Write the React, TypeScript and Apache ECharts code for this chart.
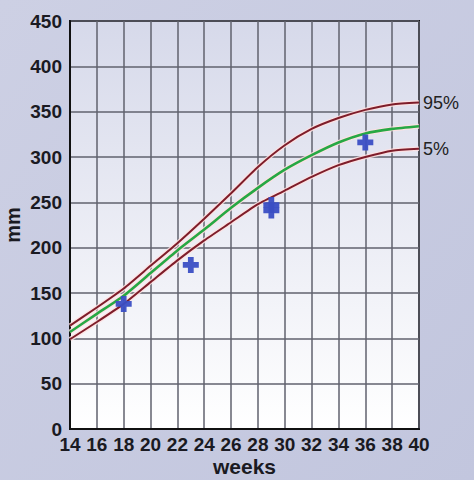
import React, { useEffect, useRef } from "react";
import * as echarts from "echarts";

const weeks = [14, 16, 18, 20, 22, 24, 26, 28, 30, 32, 34, 36, 38, 40];
const p95 = [114, 134, 155, 180, 205, 232, 260, 289, 313, 331, 343, 352, 358, 360];
const p50 = [107, 127, 147, 172, 197, 220, 244, 266, 286, 302, 316, 326, 331, 334];
const p5 = [99, 118, 138, 162, 186, 208, 228, 248, 263, 278, 291, 300, 307, 309];
const measuredWeeks = [18, 23, 29, 29, 36];
const measuredValues = [138, 181, 247, 241, 316];
const yTicks = [0, 50, 100, 150, 200, 250, 300, 350, 400, 450];

const FONT = "'Liberation Sans', Arial, sans-serif";
const CROSS = "path://M3.2,0 H6.8 V3.2 H10 V6.8 H6.8 V10 H3.2 V6.8 H0 V3.2 H3.2 Z";

function pairs(xs: number[], ys: number[]) {
  return xs.map((x, i) => [x, ys[i]]);
}

export default function App() {
  const ref = useRef<HTMLDivElement>(null);
  useEffect(() => {
    if (!ref.current) return;
    const chart = echarts.init(ref.current, null, { renderer: "svg" });
    const halo = (data: number[][], w: number) => ({
      type: "line",
      data,
      smooth: 0.2,
      symbol: "none",
      silent: true,
      z: 2,
      lineStyle: { color: "rgba(255,225,225,0.85)", width: w },
    });
    const curve = (name: string, data: number[][], color: string, w: number, label?: string) => ({
      type: "line",
      name,
      data,
      smooth: 0.2,
      symbol: "none",
      z: 3,
      lineStyle: { color, width: w },
      endLabel: label
        ? {
            show: true,
            formatter: label,
            fontFamily: FONT,
            fontSize: 18,
            color: "#222",
            distance: 4,
          }
        : { show: false },
    });
    chart.setOption({
      animation: false,
      backgroundColor: {
        type: "linear",
        x: 0,
        y: 0,
        x2: 1,
        y2: 1,
        colorStops: [
          { offset: 0, color: "#cdd0e4" },
          { offset: 1, color: "#c2c6de" },
        ],
      },
      grid: {
        left: 70,
        right: 55,
        top: 21,
        bottom: 51,
        outerBoundsMode: "none",
        containLabel: false,
        show: true,
        borderColor: "#111",
        borderWidth: 2,
        backgroundColor: {
          type: "linear",
          x: 0,
          y: 0,
          x2: 0,
          y2: 1,
          colorStops: [
            { offset: 0, color: "#d6d9ea" },
            { offset: 1, color: "#ffffff" },
          ],
        },
      },
      xAxis: {
        type: "value",
        min: 14,
        max: 40,
        interval: 2,
        name: "weeks",
        nameLocation: "middle",
        nameGap: 27,
        nameMoveOverlap: false,
        nameTextStyle: { fontFamily: FONT, fontWeight: "bold", fontSize: 21, color: "#1a1a22" },
        axisLine: { show: true, lineStyle: { color: "#111", width: 2 } },
        axisTick: { show: false },
        axisLabel: { fontFamily: FONT, fontWeight: "bold", fontSize: 19, color: "#1a1a22", margin: 6 },
        splitLine: { show: true, lineStyle: { color: "#60626e", width: 1.5 } },
      },
      yAxis: {
        type: "value",
        min: yTicks[0],
        max: yTicks[yTicks.length - 1],
        interval: 50,
        name: "mm",
        nameLocation: "middle",
        nameGap: 47,
        nameMoveOverlap: false,
        nameRotate: 90,
        nameTextStyle: { fontFamily: FONT, fontWeight: "bold", fontSize: 20, color: "#1a1a22" },
        axisLine: { show: true, lineStyle: { color: "#111", width: 2 } },
        axisTick: { show: false },
        axisLabel: { fontFamily: FONT, fontWeight: "bold", fontSize: 19, color: "#1a1a22", margin: 8 },
        splitLine: { show: true, lineStyle: { color: "#60626e", width: 1.5 } },
      },
      series: [
        halo(pairs(weeks, p95), 4.5),
        halo(pairs(weeks, p50), 5),
        halo(pairs(weeks, p5), 4.5),
        curve("95%", pairs(weeks, p95), "#7e1d2a", 2, "95%"),
        curve("50%", pairs(weeks, p50), "#27a844", 2.6),
        curve("5%", pairs(weeks, p5), "#7e1d2a", 2, "5%"),
        {
          type: "scatter",
          data: pairs(measuredWeeks, measuredValues),
          symbol: CROSS,
          symbolSize: 16,
          z: 4,
          itemStyle: { color: "#3a4ec4", opacity: 0.95 },
        },
      ],
    });
    return () => chart.dispose();
  }, []);
  return <div ref={ref} style={{ width: 474, height: 480, position: "absolute", left: 0, top: 0 }} />;
}
